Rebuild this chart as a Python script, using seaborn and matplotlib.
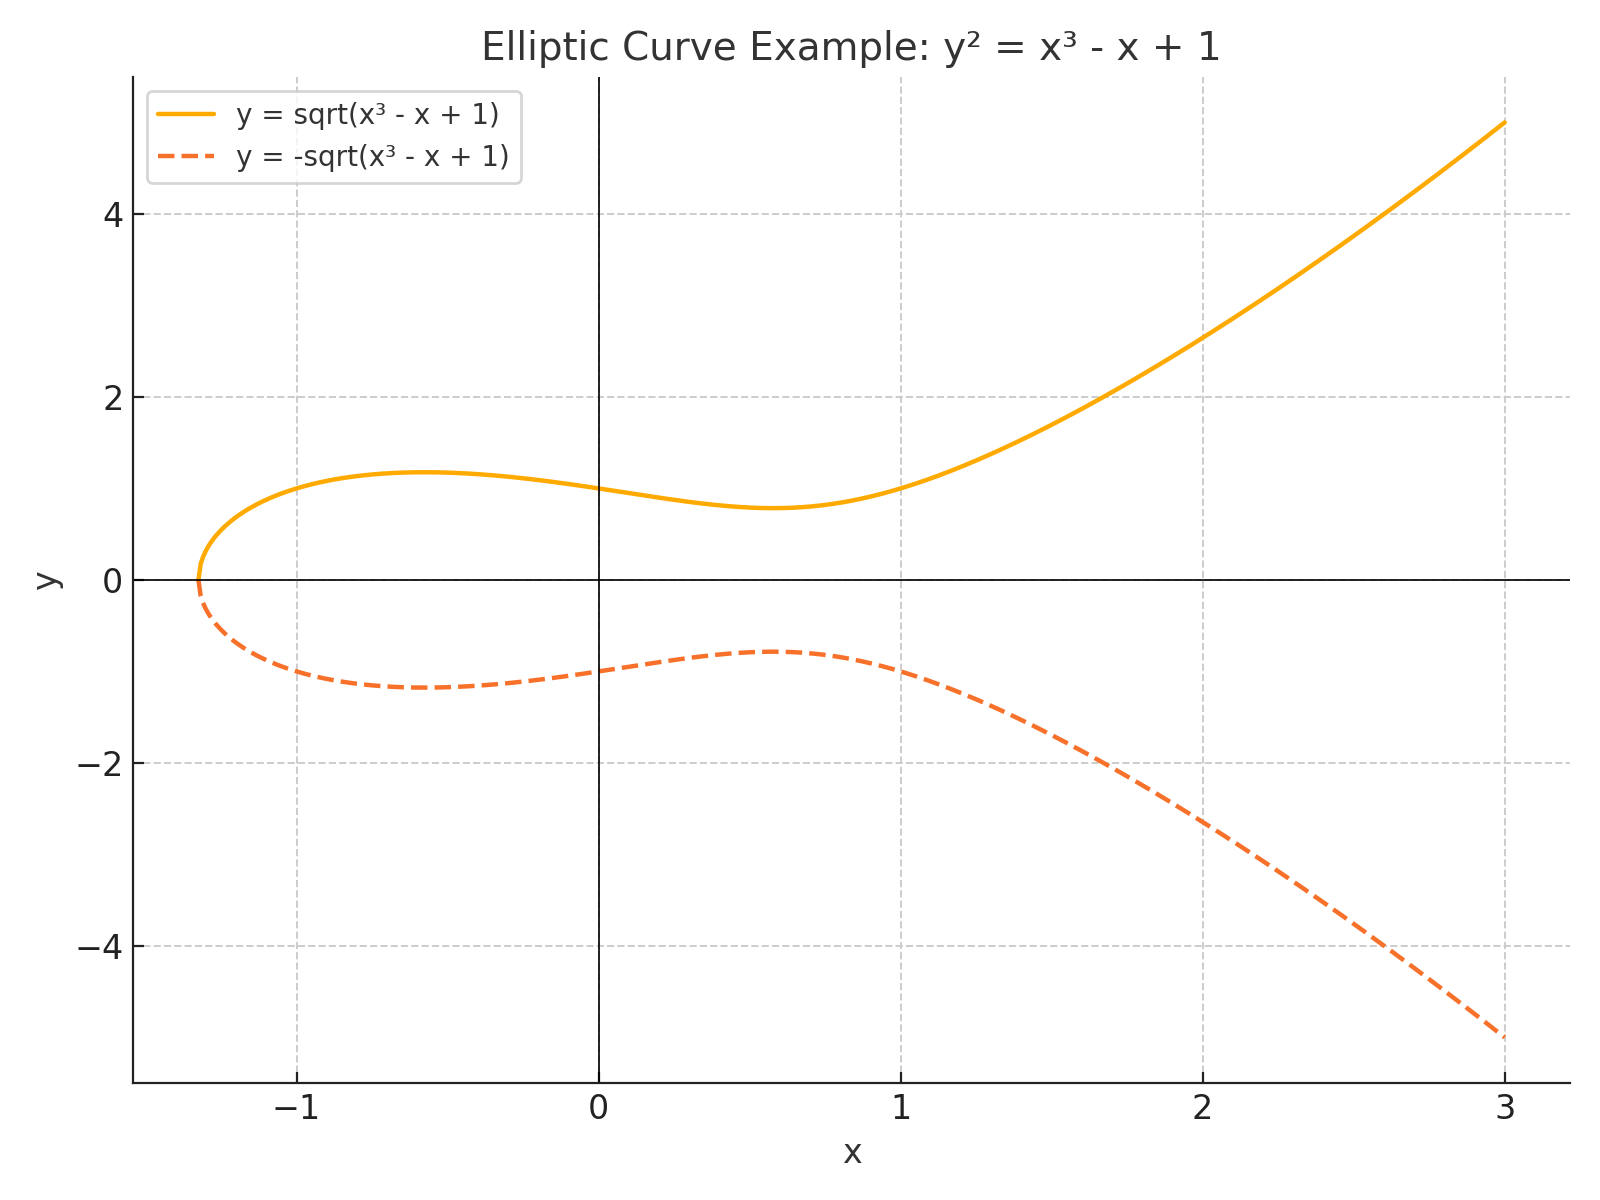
import numpy as np
import matplotlib
matplotlib.use("Agg")
import matplotlib.pyplot as plt
import seaborn as sns

# ------------------ Data ------------------
# curve y^2 = x^3 - x + 1, drawn from its real root up to x = 3
x_root = -1.324718
x_end = 3.0
x = np.concatenate([[x_root], np.linspace(-1.3247, x_end, 600)])
rhs = np.clip(x**3 - x + 1, 0, None)
y_upper = np.sqrt(rhs)
y_lower = -np.sqrt(rhs)

labels = ["y = sqrt(x³ - x + 1)", "y = -sqrt(x³ - x + 1)"]

# ------------------ Style ------------------
sns.set_style("ticks")
plt.rcParams["font.family"] = ["DejaVu Sans"]
plt.rcParams["text.color"] = "#333333"
plt.rcParams["axes.labelcolor"] = "#333333"
plt.rcParams["axes.edgecolor"] = "#222222"
plt.rcParams["xtick.direction"] = "in"
plt.rcParams["ytick.direction"] = "in"

fig, ax = plt.subplots(figsize=(8, 6), dpi=200)

sns.lineplot(x=x, y=y_upper, ax=ax, color="#FFAA00", linewidth=1.6,
             label=labels[0], sort=False, estimator=None)
sns.lineplot(x=x, y=y_lower, ax=ax, color="#F7712A", linewidth=1.6,
             linestyle="--", label=labels[1], sort=False, estimator=None)

ax.axhline(0, color="black", linewidth=0.6)
ax.axvline(0, color="black", linewidth=0.6)

ax.grid(True, linestyle="--", color="#cccccc", linewidth=0.7)
ax.set_axisbelow(True)
sns.despine(ax=ax)

ax.set_title("Elliptic Curve Example: y² = x³ - x + 1", fontsize=14, color="#333333")
ax.set_xlabel("x", fontsize=12)
ax.set_ylabel("y", fontsize=12)
ax.tick_params(labelsize=12, length=4, colors="#222222")
ax.set_xticks([-1, 0, 1, 2, 3])
ax.set_yticks([-4, -2, 0, 2, 4])

leg = ax.legend(loc="upper left", fontsize=10, frameon=True)
leg.get_frame().set_edgecolor("#cccccc")

plt.tight_layout()
plt.savefig("out.png", dpi=200)
plt.close()
